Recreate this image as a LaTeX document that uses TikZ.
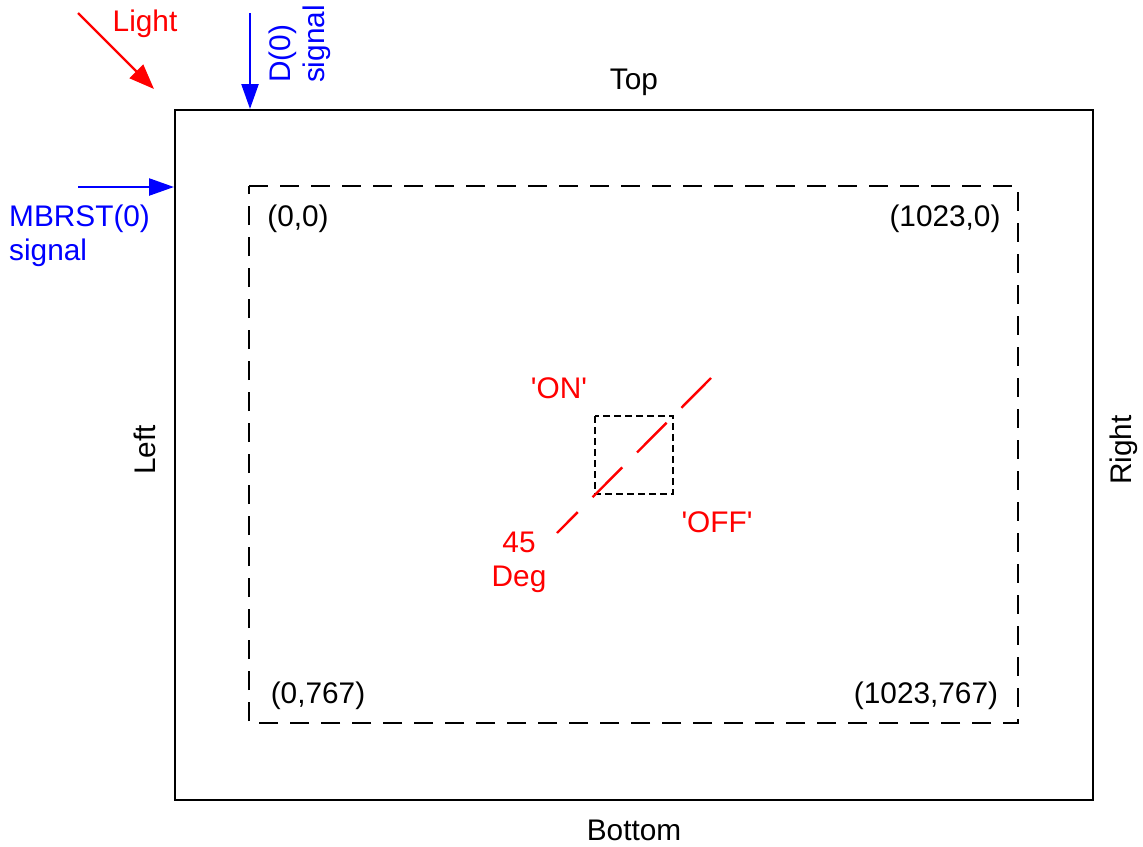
\documentclass[tikz,border=0pt]{standalone}
\usepackage{fontspec}
\setmainfont{Liberation Sans}
\usetikzlibrary{arrows.meta}
\definecolor{sigblue}{RGB}{0,0,255}
\definecolor{lightred}{RGB}{255,0,0}
\newcommand{\sq}{\textquotesingle}
\tikzset{
  lbl/.style={inner sep=0pt, font=\fontsize{29.8}{34}\selectfont},
  frame/.style={draw=black, line width=2.4pt},
  area/.style={draw=black, line width=2.4pt, dash pattern=on 19pt off 12pt},
  pixbox/.style={draw=black, line width=2.2pt, dash pattern=on 7pt off 4pt},
  sigarrow/.style={draw=sigblue, line width=2.4pt, -{Triangle[length=25pt,width=17pt]}},
  lightarrow/.style={draw=lightred, line width=2.4pt, -{Triangle[length=25pt,width=19pt]}},
  angleline/.style={draw=lightred, line width=2.4pt, dash pattern=on 42pt off 21pt}
}
\begin{document}
\begin{tikzpicture}[x=1pt,y=-1pt]
\useasboundingbox (0,0) rectangle (1143,846);
% frames
\draw[frame] (175,110) rectangle (1093,800);
\draw[area] (249,186) -- (1018,186) -- (1018,723) -- (249,723) -- cycle;
\draw[pixbox] (595,416) rectangle (673,494);
% coordinates
\coordinate (lightS) at (78,13);
\coordinate (lightE) at (154,89);
\coordinate (dS) at (250,13);
\coordinate (dE) at (250,109);
\coordinate (mS) at (78,187);
\coordinate (mE) at (174,187);
\coordinate (angA) at (711,378);
\coordinate (angB) at (557,533);
% arrows
\draw[lightarrow] (lightS) -- (lightE);
\draw[sigarrow] (dS) -- (dE);
\draw[sigarrow] (mS) -- (mE);
\draw[angleline] (angA) -- (angB);
% labels
\node[lbl, text=lightred] (light) at (145,24) {Light};
\node[lbl, text=sigblue, rotate=90, align=left] (dsig) at (300,44) {D(0)\\signal};
\node[lbl, text=sigblue, align=left, anchor=north west] (msig) at (9,205) {MBRST(0)\\signal};
\node[lbl] (top) at (634,82) {Top};
\node[lbl] (bottom) at (634,830) {Bottom};
\node[lbl, rotate=90] (left) at (145,450) {Left};
\node[lbl, rotate=90] (right) at (1124,450) {Right};
\node[lbl] (c00) at (298,219) {(0,0)};
\node[lbl] (c10) at (945,219) {(1023,0)};
\node[lbl] (c01) at (318,696) {(0,767)};
\node[lbl] (c11) at (926,696) {(1023,767)};
\node[lbl, text=lightred] (on) at (559,388) {\sq ON\sq};
\node[lbl, text=lightred] (off) at (717,522) {\sq OFF\sq};
\node[lbl, text=lightred, align=center] (deg) at (519,562) {45\\Deg};
\end{tikzpicture}
\end{document}
